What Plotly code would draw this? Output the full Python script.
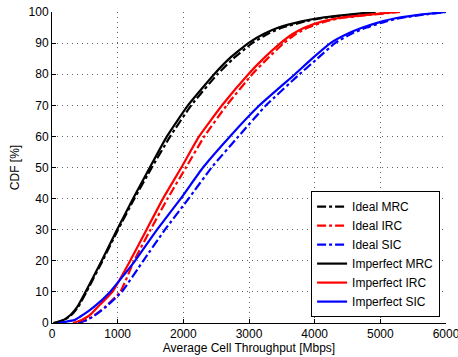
import plotly.graph_objects as go

# CDF levels [%]
cdf_levels = [0, 1, 2, 3, 5, 10, 20, 30, 40, 50, 60, 70, 80, 85, 90, 93, 95, 97, 98, 99, 100]

# Throughput [Mbps] at each CDF level
ideal_mrc = [40, 190, 260, 315, 395, 525, 770, 1005, 1255, 1520, 1800, 2120, 2520, 2760, 3050, 3290, 3510, 3860, 4100, 4500, 4950]
ideal_irc = [400, 530, 610, 680, 800, 1040, 1250, 1500, 1760, 2040, 2320, 2660, 3050, 3280, 3530, 3720, 3900, 4170, 4390, 4800, 5300]
ideal_sic = [400, 530, 620, 690, 810, 1062, 1390, 1720, 2080, 2430, 2840, 3260, 3770, 4040, 4310, 4560, 4790, 5090, 5290, 5600, 6000]
imperfect_mrc = [20, 175, 245, 300, 380, 510, 757, 990, 1235, 1490, 1750, 2070, 2470, 2700, 2990, 3230, 3450, 3800, 4050, 4450, 4900]
imperfect_irc = [320, 453, 540, 600, 690, 920, 1190, 1440, 1690, 1970, 2240, 2590, 2990, 3220, 3480, 3670, 3850, 4120, 4350, 4750, 5250]
imperfect_sic = [100, 350, 427, 500, 630, 884, 1265, 1600, 1960, 2300, 2710, 3160, 3700, 3960, 4240, 4500, 4730, 5030, 5230, 5550, 6000]

series = [
    ("Ideal MRC", ideal_mrc, "black", "dashdot"),
    ("Ideal IRC", ideal_irc, "red", "dashdot"),
    ("Ideal SIC", ideal_sic, "blue", "dashdot"),
    ("Imperfect MRC", imperfect_mrc, "black", "solid"),
    ("Imperfect IRC", imperfect_irc, "red", "solid"),
    ("Imperfect SIC", imperfect_sic, "blue", "solid"),
]

x_ticks = [0, 1000, 2000, 3000, 4000, 5000, 6000]
y_ticks = [0, 10, 20, 30, 40, 50, 60, 70, 80, 90, 100]

fig = go.Figure()
for name, xs, color, dash in series:
    fig.add_trace(go.Scatter(
        x=xs, y=cdf_levels, mode="lines", name=name,
        line=dict(color=color, width=2.2, dash=dash, shape="spline", smoothing=0.4),
    ))

font_family = "Liberation Sans, Arial, Helvetica, sans-serif"
axis_common = dict(
    showline=True, linecolor="black", linewidth=1,
    ticks="inside", ticklen=4, tickcolor="black",
    showgrid=True, gridcolor="#666666", gridwidth=1, griddash="1px,4px",
    zeroline=False, mirror=False, automargin=False,
    ticklabeloverflow="allow",
    tickfont=dict(family=font_family, size=12, color="black"),
)

fig.update_layout(
    width=458, height=357,
    margin=dict(l=52, r=12, t=12, b=34),
    paper_bgcolor="white", plot_bgcolor="white",
    font=dict(family=font_family, size=12, color="black"),
    xaxis=dict(range=[0, 6000], tickvals=x_ticks,
               title=dict(text="Average Cell Throughput [Mbps]", standoff=2,
                          font=dict(family=font_family, size=12)),
               **axis_common),
    yaxis=dict(range=[0, 100], tickvals=y_ticks,
               title=dict(text="CDF [%]", standoff=6,
                          font=dict(family=font_family, size=12)),
               **axis_common),
    legend=dict(
        x=0.985, y=0.019, xanchor="right", yanchor="bottom",
        bgcolor="white", bordercolor="black", borderwidth=1,
        font=dict(family=font_family, size=12),
        tracegroupgap=0, itemwidth=30,
    ),
    showlegend=True,
)

fig.write_html("out.html")
